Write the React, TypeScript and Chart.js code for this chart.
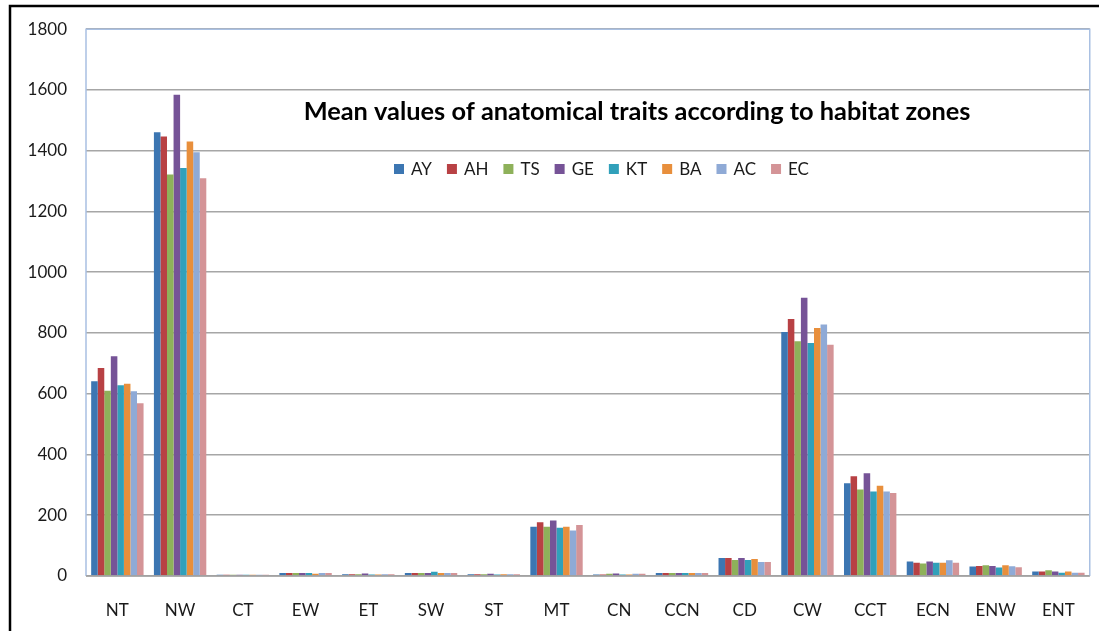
import React, { useEffect, useRef } from "react";
import { Chart, registerables } from "chart.js";

Chart.register(...registerables);

const categories = ["NT", "NW", "CT", "EW", "ET", "SW", "ST", "MT", "CN", "CCN", "CD", "CW", "CCT", "ECN", "ENW", "ENT"];
const seriesNames = ["AY", "AH", "TS", "GE", "KT", "BA", "AC", "EC"];
const AY = [641, 1461, 4, 10, 6, 10, 6, 162, 5, 10, 59, 803, 305, 48, 31, 15];
const AH = [685, 1447, 4, 10, 6, 10, 6, 177, 5, 10, 59, 846, 328, 44, 33, 15];
const TS = [610, 1322, 4, 10, 6, 10, 6, 162, 7, 10, 53, 773, 285, 41, 35, 19];
const GE = [723, 1584, 4, 10, 8, 10, 7, 183, 8, 10, 59, 916, 338, 48, 33, 15];
const KT = [628, 1343, 4, 10, 5, 14, 5, 159, 5, 10, 53, 767, 278, 44, 28, 11];
const BA = [633, 1430, 4, 7, 5, 10, 6, 162, 5, 10, 56, 816, 297, 44, 35, 15];
const AC = [608, 1395, 4, 10, 6, 10, 6, 150, 7, 10, 46, 828, 278, 52, 32, 11];
const EC = [569, 1309, 4, 10, 6, 10, 6, 168, 7, 10, 46, 761, 273, 44, 29, 11];
const seriesValues = [AY, AH, TS, GE, KT, BA, AC, EC];
const seriesColors = ["#3C76B2", "#B84144", "#8EB15A", "#765397", "#31A0BA", "#E88F3C", "#8FAAD6", "#D49497"];
const yTicks = [0, 200, 400, 600, 800, 1000, 1200, 1400, 1600, 1800];
const titleText = "Mean values of anatomical traits according to habitat zones";

const FONT = "Lato, 'Open Sans', sans-serif";

const overlayPlugin = {
  id: "overlay",
  beforeDraw(chart: any) {
    const ctx = chart.ctx;
    ctx.save();
    ctx.fillStyle = "#ffffff";
    ctx.fillRect(0, 0, chart.width, chart.height);
    ctx.restore();
  },
  afterDraw(chart: any) {
    const ctx = chart.ctx;
    const a = chart.chartArea;
    ctx.save();
    ctx.strokeStyle = "#A9C0E2";
    ctx.lineWidth = 1.5;
    ctx.beginPath();
    ctx.moveTo(a.left, a.bottom);
    ctx.lineTo(a.left, a.top);
    ctx.lineTo(a.right, a.top);
    ctx.lineTo(a.right, a.bottom);
    ctx.stroke();
    ctx.strokeStyle = "#A0A0A0";
    ctx.beginPath();
    ctx.moveTo(a.left, a.bottom);
    ctx.lineTo(a.right, a.bottom);
    ctx.stroke();
    ctx.strokeStyle = "#000000";
    ctx.lineWidth = 2.5;
    ctx.beginPath();
    ctx.moveTo(10, chart.height + 2);
    ctx.lineTo(10, 6);
    ctx.lineTo(chart.width + 2, 6);
    ctx.stroke();
    ctx.fillStyle = "#000000";
    ctx.textBaseline = "middle";
    ctx.textAlign = "center";
    let size = 24;
    ctx.font = `bold ${size}px ${FONT}`;
    const w = ctx.measureText(titleText).width;
    size = Math.min(26, (size * 667) / w);
    ctx.font = `bold ${size}px ${FONT}`;
    ctx.fillText(titleText, 637, 112);
    ctx.font = `17px ${FONT}`;
    ctx.textAlign = "left";
    let x = 394;
    const y = 169;
    seriesNames.forEach((name, i) => {
      ctx.fillStyle = seriesColors[i];
      ctx.fillRect(x, y - 5, 10, 10);
      ctx.fillStyle = "#1a1a1a";
      ctx.fillText(name, x + 17, y + 1);
      x += 17 + ctx.measureText(name).width + 15;
    });
    ctx.restore();
  },
};

export default function App() {
  const ref = useRef<HTMLCanvasElement | null>(null);
  useEffect(() => {
    document.body.style.margin = "0";
    if (!ref.current) return;
    const chart = new Chart(ref.current, {
      type: "bar",
      data: {
        labels: categories,
        datasets: seriesNames.map((name, i) => ({
          label: name,
          data: seriesValues[i],
          backgroundColor: seriesColors[i],
          borderWidth: 0,
          barPercentage: 1,
          categoryPercentage: 0.835,
        })),
      },
      options: {
        responsive: false,
        animation: false,
        layout: { padding: { left: 0, top: 29, right: 6, bottom: 0 } },
        plugins: {
          legend: { display: false },
          title: { display: false },
          tooltip: { enabled: false },
        },
        scales: {
          x: {
            grid: { display: false, drawTicks: false },
            border: { display: false },
            ticks: { color: "#1a1a1a", font: { family: FONT, size: 17 }, padding: 24, maxRotation: 0, autoSkip: false },
            afterFit: (scale: any) => { scale.height = 55; },
          },
          y: {
            min: 0,
            max: 1800,
            afterBuildTicks: (scale: any) => { scale.ticks = yTicks.map((v) => ({ value: v })); },
            grid: { color: "#A6A6A6", lineWidth: 1.5, drawTicks: false },
            border: { display: false },
            ticks: {
              color: "#1a1a1a",
              font: { family: FONT, size: 17 },
              padding: 19,
              callback: (v: any) => String(v),
            },
            afterFit: (scale: any) => { scale.width = 86; },
          },
        },
      },
      plugins: [overlayPlugin],
    });
    return () => chart.destroy();
  }, []);
  return (
    <div style={{ width: 1099, height: 631 }}>
      <canvas ref={ref} width={1099} height={631} style={{ display: "block" }} />
    </div>
  );
}
